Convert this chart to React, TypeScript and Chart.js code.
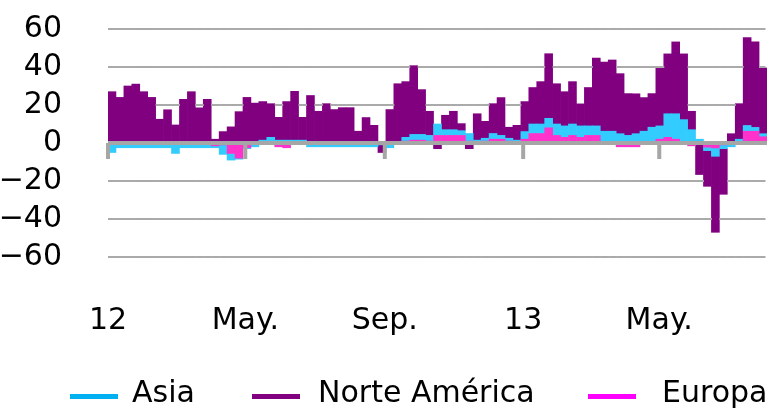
import { useEffect, useRef } from 'react';
import { Chart, registerables } from 'chart.js';

Chart.register(...registerables);

// Weekly categories, first week of Jan 2012 onwards (83 weeks)
const categories: string[] = Array.from({ length: 83 }, (_, i) => {
  const d = new Date(Date.UTC(2012, 0, 1 + 7 * i));
  return d.toISOString().slice(0, 10);
});

const tickLabels = ['12', 'May.', 'Sep.', '13', 'May.'];
// tick positions expressed in weeks from the first category
const tickWeeks = [0, 17.29, 34.86, 52.29, 69.43];

const yMin = -80;
const yMax = 60;
const yStep = 20;

const europa = [
  -0.5, -0.5, -0.5, -0.5, -0.5, -0.5, -0.5, -0.5, -0.5, -0.5,
  -0.5, -0.5, -0.5, -1.5, -1, -5.5, -8, -2.5, -0.5, -0.5,
  -0.5, -2, -2.5, -0.5, -0.5, -0.5, -0.5, -0.5, -0.5, -0.5,
  -0.5, -0.5, -0.5, -0.5, -0.5, 0.5, 0.5, 1, 1.5, 1.5,
  1, 4, 4, 4, 4, 1, 0.5, 1, 2, 2,
  1, 0.5, 2, 5, 5, 8, 4, 3, 4, 3,
  4, 4, 0.5, 0.5, -2, -2, -2, 0.5, 0.5, 2,
  3, 2, 0.5, -1.5, -0.5, -2.2, -2.6, -1, -0.5, 0.5,
  6.2, 6.2, 3.3,
];

const asia = [
  -4.5, -2, -2, -2, -2, -2, -2, -2, -5, -2,
  -2, -2, -2, -1, -5, -3.5, -0.5, -0.5, -1.5, 1.5,
  3, 1.5, 1.5, 1.5, 1.5, -1.5, -1.5, -1.5, -1.5, -1.5,
  -1.5, -1.5, -1.5, -1.5, -0.5, -2.5, 0, 2, 3, 3,
  3, 6, 3, 3, 2.5, 4, 1, 1.5, 3, 2,
  1.5, 1, 4, 5, 5, 5, 6, 6, 6, 6,
  5, 5, 5.7, 5.7, 4.9, 4, 4.9, 5.7, 7.8, 7,
  12.4, 13.4, 11.8, 7, 2, -1.8, -4.4, -2, -1.5, 1.5,
  3, 2, 1.6,
];

const norteAmerica = [
  27, 24, 30, 31, 27, 24, 12.5, 17.5, 9.5, 23,
  27, 18.5, 23, 2, 6, 8.5, 16.5, 24, 21, 20.3,
  17.7, 12, 20.3, 25.7, 12, 25, 16.7, 20.7, 17.6, 18.6,
  18.6, 6.2, 13.4, 9.3, -4, 17.1, 30.7, 29.3, 36.2, 23.6,
  12.7, -3, 7.6, 9.7, 3.7, -3, 13.9, 8.9, 15.7, 19.9,
  5.8, 7.8, 15.8, 19.2, 22.3, 34, 21.2, 18, 22.3, 11.6,
  20.2, 35.7, 36.4, 37.5, 31.6, 22, 21, 17.7, 17.7, 30.5,
  31.5, 37.8, 34.6, 9.7, -16.1, -18.8, -40, -24, 4.9, 18.7,
  46.3, 45, 34.6,
];

const seriesNames = ['Asia', 'Norte América', 'Europa'];

const FONT = '"DejaVu Sans", sans-serif';

const overlayPlugin = {
  id: 'overlay',
  afterDatasetsDraw(chart: any) {
    const { ctx, chartArea, scales } = chart;
    const yScale = scales.y;
    const y0 = yScale.getPixelForValue(0);
    const n = categories.length;
    const bw = (chartArea.right - chartArea.left) / n;
    ctx.save();
    // grid lines: drawn only in the gaps not covered by a bar stack
    ctx.fillStyle = '#aaaaaa';
    for (let v = yMin + yStep; v <= yMax; v += yStep) {
      if (v === 0) continue;
      const y = Math.round(yScale.getPixelForValue(v));
      for (let i = 0; i < n; i++) {
        const vals = [europa[i], asia[i], norteAmerica[i]];
        const pos = vals.filter((x) => x > 0).reduce((a, b) => a + b, 0);
        const neg = vals.filter((x) => x < 0).reduce((a, b) => a + b, 0);
        const covered = (v > 0 && v <= pos) || (v < 0 && v >= neg);
        if (covered) continue;
        const x1 = chartArea.left + i * bw;
        const x2 = Math.min(chartArea.left + (i + 1) * bw, chartArea.right - 2);
        ctx.fillRect(x1, y - 1, x2 - x1 + 0.5, 2);
      }
    }
    // zero line
    ctx.fillStyle = '#a6a6a6';
    ctx.fillRect(chartArea.left, y0 - 2, chartArea.right - chartArea.left, 4);
    // tick marks
    tickWeeks.forEach((w) => {
      const x = chartArea.left + w * bw;
      ctx.fillRect(x - 2, y0, 4, 16);
    });
    // x labels
    ctx.fillStyle = '#000';
    ctx.font = `30px ${FONT}`;
    ctx.textAlign = 'center';
    ctx.textBaseline = 'alphabetic';
    tickLabels.forEach((t, i) => {
      ctx.fillText(t, chartArea.left + tickWeeks[i] * bw, 329);
    });
    // legend
    const legendColors = ['#00b0f0', '#800080', '#ff00ff'];
    const markerX = [70, 252, 588];
    const textX = [132, 318, 662];
    ctx.textAlign = 'left';
    seriesNames.forEach((name, i) => {
      ctx.fillStyle = legendColors[i];
      ctx.fillRect(markerX[i], 394, 48, 5);
      ctx.fillStyle = '#000';
      ctx.fillText(name, textX[i], 402);
    });
    ctx.restore();
  },
};

export default function App() {
  const ref = useRef<HTMLCanvasElement>(null);
  useEffect(() => {
    if (!ref.current) return;
    const chart = new Chart(ref.current, {
      type: 'bar',
      data: {
        labels: categories,
        datasets: [
          { label: 'Europa', data: europa, backgroundColor: '#ff33cc', borderWidth: 0 },
          { label: 'Asia', data: asia, backgroundColor: '#33ccff', borderWidth: 0 },
          { label: 'Norte América', data: norteAmerica, backgroundColor: '#800080', borderWidth: 0 },
        ],
      },
      options: {
        animation: false,
        responsive: true,
        maintainAspectRatio: false,
        devicePixelRatio: 1,
        layout: { padding: { top: 29, bottom: 113, left: 0, right: 0 } },
        datasets: { bar: { barPercentage: 1, categoryPercentage: 1 } },
        plugins: {
          legend: { display: false },
          tooltip: { enabled: false },
        },
        scales: {
          x: { display: false, stacked: true },
          y: {
            stacked: true,
            min: yMin,
            max: yMax,
            afterFit: (s: any) => {
              s.width = 108;
              s.paddingTop = 0;
              s.paddingBottom = 0;
            },
            border: { display: false },
            grid: { display: false },
            ticks: {
              stepSize: yStep,
              autoSkip: false,
              padding: 38,
              color: '#000',
              font: { family: FONT, size: 30 },
              callback: (v: any) => (v === yMin ? '' : String(v).replace('-', '\u2212')),
            },
          },
        },
      },
      plugins: [overlayPlugin],
    });
    return () => chart.destroy();
  }, []);
  return (
    <div style={{ position: 'fixed', left: 0, top: 0, width: 767, height: 408 }}>
      <canvas ref={ref} />
    </div>
  );
}
